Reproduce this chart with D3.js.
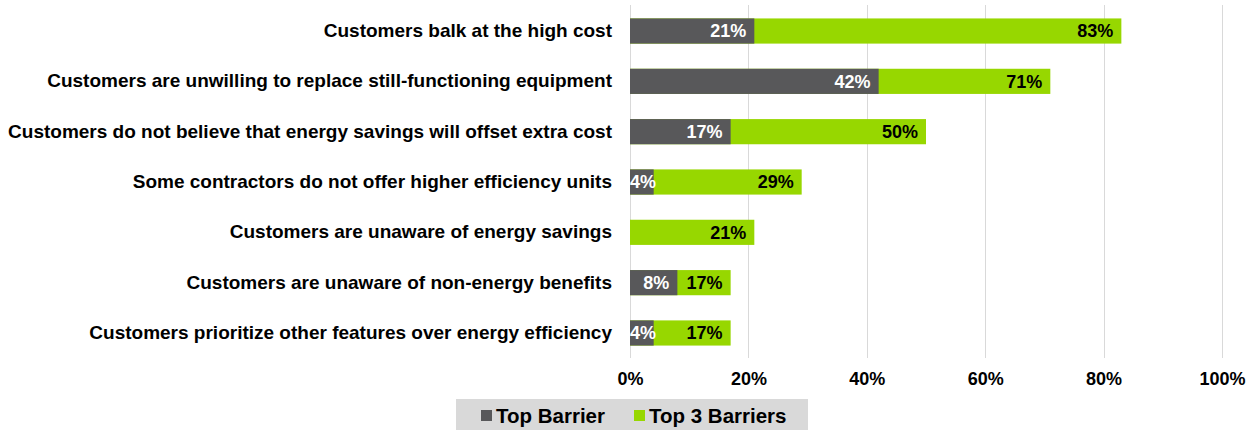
<!DOCTYPE html>
<html>
<head>
<meta charset="utf-8">
<script src="https://cdn.jsdelivr.net/npm/d3@7"></script>
<style>
  html, body { margin: 0; padding: 0; background: #ffffff; }
  svg { display: block; }
  text { font-family: "Liberation Sans", Arial, sans-serif; font-weight: bold; }
</style>
</head>
<body>
<svg id="chart" width="1253" height="430"></svg>
<script>
// Barriers to selling higher-efficiency equipment
const categories = [
  "Customers balk at the high cost",
  "Customers are unwilling to replace still-functioning equipment",
  "Customers do not believe that energy savings will offset extra cost",
  "Some contractors do not offer higher efficiency units",
  "Customers are unaware of energy savings",
  "Customers are unaware of non-energy benefits",
  "Customers prioritize other features over energy efficiency"
];
const topBarrier = [21, 42, 17, 4, 0, 8, 4];
const top3Barriers = [83, 71, 50, 29, 21, 17, 17];
const seriesNames = ["Top Barrier", "Top 3 Barriers"];
const tickValues = [0, 20, 40, 60, 80, 100];

const colors = { top: "#58585a", top3: "#97d700" };

const svg = d3.select("#chart");

const x = d3.scaleLinear().domain([0, 100]).range([630, 1222]);
const y = d3.scaleBand()
  .domain(categories)
  .range([5.85, 358.15])
  .paddingInner(0.5)
  .paddingOuter(0.25);

// vertical gridlines
svg.append("g")
  .selectAll("line")
  .data(tickValues)
  .join("line")
  .attr("x1", d => Math.round(x(d)) + 0.5)
  .attr("x2", d => Math.round(x(d)) + 0.5)
  .attr("y1", 5)
  .attr("y2", 358)
  .attr("stroke", "#d9d9d9")
  .attr("stroke-width", 1);

// x axis tick labels
const xAxis = d3.axisBottom(x)
  .tickValues(tickValues)
  .tickFormat(d => d + "%")
  .tickSize(0)
  .tickPadding(0);
const gx = svg.append("g").attr("transform", "translate(0,372)").call(xAxis);
gx.select(".domain").remove();
gx.selectAll("text")
  .attr("font-size", 18)
  .attr("font-family", "Liberation Sans, Arial, sans-serif")
  .attr("font-weight", "bold")
  .attr("fill", "#000");

// category labels
const yAxis = d3.axisLeft(y).tickSize(0).tickPadding(18);
const gy = svg.append("g").attr("transform", `translate(${x(0)},0)`).call(yAxis);
gy.select(".domain").remove();
gy.selectAll("text")
  .attr("font-size", 19)
  .attr("font-family", "Liberation Sans, Arial, sans-serif")
  .attr("font-weight", "bold")
  .attr("fill", "#000");

const rows = categories.map((c, i) => ({ c, top: topBarrier[i], top3: top3Barriers[i] }));

// Top 3 Barriers bars (behind)
svg.append("g")
  .selectAll("rect")
  .data(rows)
  .join("rect")
  .attr("x", x(0))
  .attr("y", d => y(d.c))
  .attr("width", d => x(d.top3) - x(0))
  .attr("height", y.bandwidth())
  .attr("fill", colors.top3);

// Top Barrier bars (front)
svg.append("g")
  .selectAll("rect")
  .data(rows.filter(d => d.top > 0))
  .join("rect")
  .attr("x", x(0))
  .attr("y", d => y(d.c))
  .attr("width", d => x(d.top) - x(0))
  .attr("height", y.bandwidth())
  .attr("fill", colors.top);

// value labels at the inside end; short bars keep the label starting at the axis
function placeLabels(sel, key) {
  sel.each(function(d) {
    const w = this.getComputedTextLength();
    const xEnd = Math.max(x(0) + w, x(d[key]) - 8);
    d3.select(this).attr("x", xEnd);
  });
}

svg.append("g")
  .selectAll("text")
  .data(rows)
  .join("text")
  .attr("y", d => y(d.c) + y.bandwidth() / 2)
  .attr("dy", "0.36em")
  .attr("text-anchor", "end")
  .attr("font-size", 18)
  .attr("fill", "#000")
  .text(d => d.top3 + "%")
  .call(placeLabels, "top3");

svg.append("g")
  .selectAll("text")
  .data(rows.filter(d => d.top > 0))
  .join("text")
  .attr("y", d => y(d.c) + y.bandwidth() / 2)
  .attr("dy", "0.36em")
  .attr("text-anchor", "end")
  .attr("font-size", 18)
  .attr("fill", "#ffffff")
  .text(d => d.top + "%")
  .call(placeLabels, "top");

// legend
const legend = svg.append("g");
legend.append("rect")
  .attr("x", 456).attr("y", 399)
  .attr("width", 352).attr("height", 31)
  .attr("fill", "#d9d9d9");
const legendItems = [
  { name: seriesNames[0], color: colors.top, x: 481 },
  { name: seriesNames[1], color: colors.top3, x: 634 }
];
const li = legend.selectAll("g.item")
  .data(legendItems)
  .join("g")
  .attr("class", "item")
  .attr("transform", d => `translate(${d.x},0)`);
li.append("rect")
  .attr("x", 0).attr("y", 410)
  .attr("width", 11).attr("height", 11)
  .attr("fill", d => d.color);
li.append("text")
  .attr("x", 15).attr("y", 423)
  .attr("font-size", 20.5)
  .attr("fill", "#000")
  .text(d => d.name);
</script>
</body>
</html>
